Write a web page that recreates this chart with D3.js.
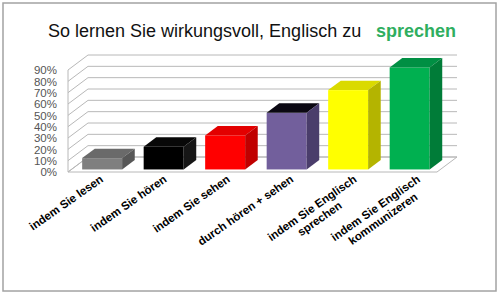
<!DOCTYPE html>
<html>
<head>
<meta charset="utf-8">
<script src="https://cdn.jsdelivr.net/npm/d3@7"></script>
<style>
  body { margin: 0; background: #fff; }
  svg { display: block; font-family: Arial, "Liberation Sans", sans-serif; }
</style>
</head>
<body>
<div id="chart"></div>
<script>
const categories = [
  "indem Sie lesen",
  "indem Sie hören",
  "indem Sie sehen",
  "durch hören + sehen",
  "indem Sie Englisch\nsprechen",
  "indem Sie Englisch\nkommunizeren"
];
const values = [10, 20, 30, 50, 70, 90];
const tickValues = [0, 10, 20, 30, 40, 50, 60, 70, 80, 90];
const titleText = "So lernen Sie wirkungsvoll, Englisch zu";
const titleAccent = "sprechen";

// front / top / side colours for each bar
const faceColors = [
  ["#7f7f7f", "#6a6a6a", "#575757"],
  ["#000000", "#080808", "#161616"],
  ["#ff0000", "#e30000", "#c00000"],
  ["#725f9c", "#0b0812", "#4a3d6b"],
  ["#ffff00", "#dada00", "#b4b400"],
  ["#00b050", "#008f43", "#007c38"]
];

const width = 500;
const height = 294;
const plotLeft = 68, plotRight = 437, plotBottom = 172, plotTop = 70;
const depthX = 20, depthY = -15;
const barFront = 0.17, barBack = 0.8;

const svg = d3.select("#chart")
  .append("svg")
  .attr("width", width)
  .attr("height", height);

svg.append("rect")
  .attr("x", 3).attr("y", 3)
  .attr("width", 493).attr("height", 288)
  .attr("fill", "#fff")
  .attr("stroke", "#a3a3a3")
  .attr("stroke-width", 1.5);

// title
const title = svg.append("text")
  .attr("x", 48)
  .attr("y", 37)
  .attr("font-size", 18)
  .attr("fill", "#111");
title.append("tspan").text(titleText);
title.append("tspan")
  .attr("x", 376)
  .attr("font-weight", 700)
  .attr("fill", "#2fae5f")
  .text(titleAccent);

const x = d3.scaleBand()
  .domain(categories)
  .range([plotLeft, plotRight])
  .paddingInner(0.35)
  .paddingOuter(0.175);

// anchor points of the slanted category labels
const xLabel = d3.scalePoint()
  .domain(categories)
  .range([104, 421]);

const y = d3.scaleLinear()
  .domain([0, 90])
  .range([plotBottom, plotTop]);

const grid = svg.append("g")
  .attr("stroke", "#b8b8b8")
  .attr("stroke-width", 1)
  .attr("fill", "none");

// floor
grid.append("polygon")
  .attr("fill", "#fff")
  .attr("points", [
    [plotLeft, y(0)], [plotRight, y(0)],
    [plotRight + depthX, y(0) + depthY], [plotLeft + depthX, y(0) + depthY]
  ].join(" "));

// side wall + back wall gridlines
grid.selectAll("path.grid")
  .data(tickValues)
  .join("path")
  .attr("class", "grid")
  .attr("d", (t) => `M${plotLeft},${y(t)}L${plotLeft + depthX},${y(t) + depthY}L${plotRight + depthX},${y(t) + depthY}`);

grid.append("line")
  .attr("x1", plotLeft).attr("x2", plotLeft)
  .attr("y1", y(0)).attr("y2", y(90));

// y axis labels
const yAxis = svg.append("g")
  .attr("transform", `translate(${plotLeft - 2},0)`)
  .call(d3.axisLeft(y).tickValues(tickValues).tickFormat((d) => d + "%").tickSize(0).tickPadding(9));
yAxis.select(".domain").remove();
yAxis.selectAll("text")
  .attr("font-family", "Arial, 'Liberation Sans', sans-serif")
  .attr("font-size", 11.5)
  .attr("fill", "#555");

// bars
const offX = barFront * depthX, offY = barFront * depthY;
const bdx = (barBack - barFront) * depthX, bdy = (barBack - barFront) * depthY;
const bw = x.bandwidth();

const bars = svg.append("g")
  .selectAll("g")
  .data(values.map((v, i) => ({ v, cat: categories[i], c: faceColors[i] })))
  .join("g");

bars.append("rect")
  .attr("x", (d) => x(d.cat) + offX)
  .attr("y", (d) => y(d.v) + offY)
  .attr("width", bw)
  .attr("height", (d) => y(0) - y(d.v))
  .attr("fill", (d) => d.c[0]);

bars.append("polygon")
  .attr("fill", (d) => d.c[1])
  .attr("points", (d) => {
    const x0 = x(d.cat) + offX, yt = y(d.v) + offY;
    return [[x0, yt], [x0 + bw, yt], [x0 + bw + bdx, yt + bdy], [x0 + bdx, yt + bdy]].join(" ");
  });

bars.append("polygon")
  .attr("fill", (d) => d.c[2])
  .attr("points", (d) => {
    const x1 = x(d.cat) + offX + bw, yt = y(d.v) + offY, yb = y(0) + offY;
    return [[x1, yt], [x1 + bdx, yt + bdy], [x1 + bdx, yb + bdy], [x1, yb]].join(" ");
  });

// category labels
const angle = -35;
const lineH = 13;
const labels = svg.append("g")
  .attr("font-size", 11.5)
  .attr("font-weight", 700)
  .attr("fill", "#000");

categories.forEach((cat) => {
  const lines = cat.split("\n");
  const g = labels.append("g")
    .attr("transform", `translate(${xLabel(cat)},181) rotate(${angle})`);
  const first = g.append("text").attr("text-anchor", "end").text(lines[0]);
  const w = first.node().getComputedTextLength();
  lines.slice(1).forEach((line, i) => {
    g.append("text")
      .attr("text-anchor", "middle")
      .attr("x", -w / 2)
      .attr("y", lineH * (i + 1))
      .text(line);
  });
});
</script>
</body>
</html>
